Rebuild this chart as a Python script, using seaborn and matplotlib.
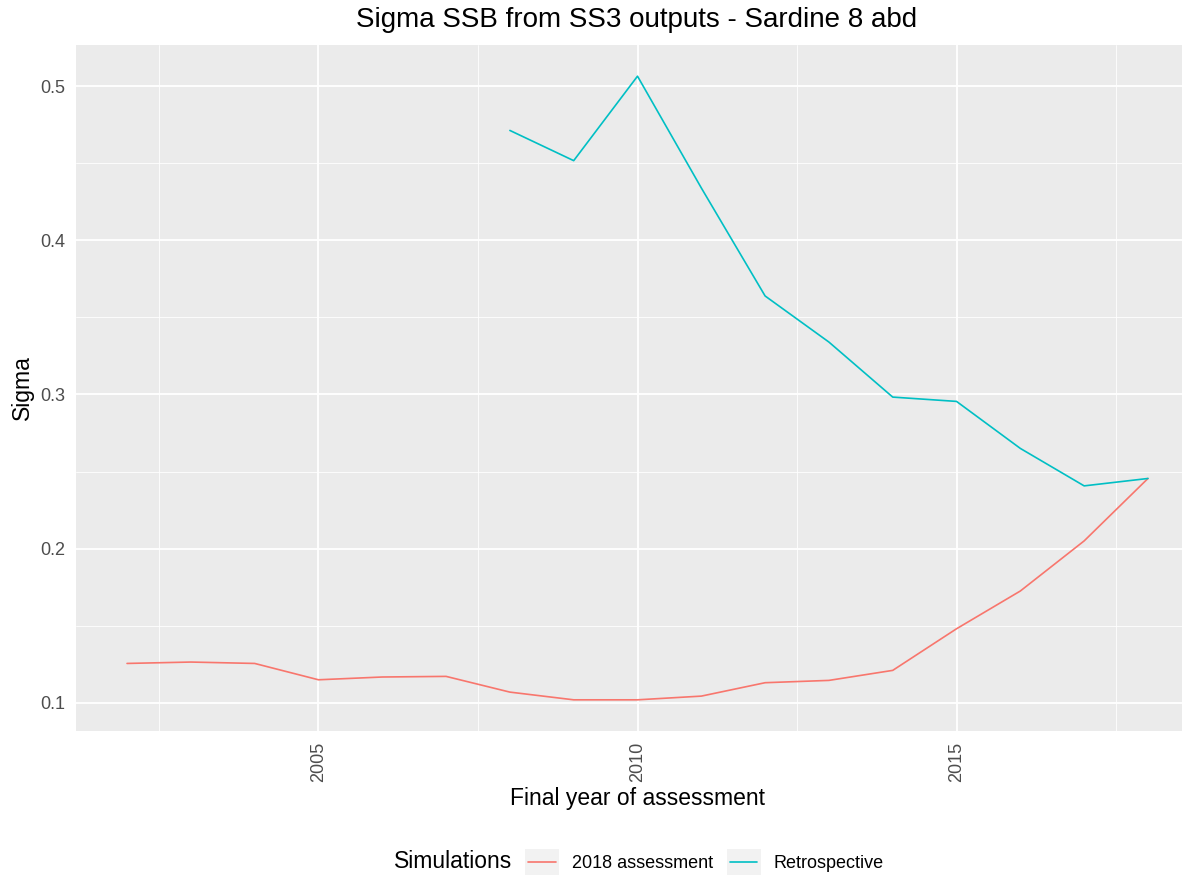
import pandas as pd
import numpy as np
import matplotlib
matplotlib.use("Agg")
import matplotlib.pyplot as plt
import matplotlib.ticker as mticker
from matplotlib.patches import Rectangle
from matplotlib.lines import Line2D
import seaborn as sns

# Dados
anos_2018 = list(range(2002, 2019))
sigma_2018 = [0.1255, 0.1264, 0.1255, 0.1149, 0.1167, 0.1171, 0.1069, 0.1019, 0.1019,
              0.1043, 0.1130, 0.1145, 0.1210, 0.1480, 0.1725, 0.2050, 0.2455]
anos_retro = list(range(2008, 2019))
sigma_retro = [0.4713, 0.4517, 0.5065, 0.4340, 0.3639, 0.3340, 0.2983, 0.2955,
               0.2650, 0.2407, 0.2455]
series = ["2018 assessment", "Retrospective"]
cores = {"2018 assessment": "#F8766D", "Retrospective": "#00BFC4"}

df = pd.concat([
    pd.DataFrame({"ano": anos_2018, "sigma": sigma_2018, "Simulations": series[0]}),
    pd.DataFrame({"ano": anos_retro, "sigma": sigma_retro, "Simulations": series[1]}),
])

sns.set_style("darkgrid")
plt.rcParams['font.family'] = ['Liberation Sans', 'DejaVu Sans']
plt.rcParams['text.color'] = 'black'


class ChaveGG:
    # caixa cinza + linha, como a chave de legenda do ggplot
    def legend_artist(self, legend, orig_handle, fontsize, handlebox):
        x0, y0 = -handlebox.xdescent, -handlebox.ydescent
        w, h = handlebox.width, handlebox.height
        rect = Rectangle((x0, y0), w, h, facecolor="#F2F2F2", edgecolor="none",
                         transform=handlebox.get_transform())
        linha = Line2D([x0 + 0.1 * w, x0 + 0.9 * w], [y0 + h / 2, y0 + h / 2],
                       color=orig_handle.get_color(), linewidth=1.2,
                       transform=handlebox.get_transform())
        handlebox.add_artist(rect)
        handlebox.add_artist(linha)
        return linha


fig = plt.figure(figsize=(11.82, 8.75), dpi=100, facecolor="white")
# painel vai um pouco além da borda direita, como no original
ax = fig.add_axes([76 / 1182, 144 / 875, 1123 / 1182, 686 / 875])
ax.set_facecolor("#EBEBEB")

sns.lineplot(data=df, x="ano", y="sigma", hue="Simulations", palette=cores,
             linewidth=1.2, ax=ax, legend=False)

# Limites com expansão de 5% (estilo ggplot)
xr = 2018 - 2002
ax.set_xlim(2002 - 0.05 * xr, 2018 + 0.05 * xr)
ymin, ymax = min(df.sigma), max(df.sigma)
yr = ymax - ymin
ax.set_ylim(ymin - 0.05 * yr, ymax + 0.05 * yr)

ax.xaxis.set_major_locator(mticker.FixedLocator([2005, 2010, 2015]))
ax.xaxis.set_minor_locator(mticker.FixedLocator([2002.5, 2007.5, 2012.5, 2017.5]))
ax.yaxis.set_major_locator(mticker.FixedLocator([0.1, 0.2, 0.3, 0.4, 0.5]))
ax.yaxis.set_minor_locator(mticker.FixedLocator([0.15, 0.25, 0.35, 0.45]))
ax.yaxis.set_major_formatter(mticker.FuncFormatter(lambda v, p: f"{v:.1f}"))

ax.grid(which="major", color="white", linewidth=1.3)
ax.grid(which="minor", color="white", linewidth=0.6)
ax.set_axisbelow(True)
for s in ax.spines.values():
    s.set_visible(False)

ax.tick_params(axis="both", which="major", length=5, width=1, color="#333333",
               labelsize=13, labelcolor="#4D4D4D", pad=3)
ax.tick_params(axis="both", which="minor", length=0)
ax.tick_params(axis="x", labelrotation=90)

ax.set_xlabel("Final year of assessment", fontsize=16.5, color="black", labelpad=3)
ax.set_ylabel("Sigma", fontsize=16.5, color="black", labelpad=4)
fig.text(637 / 1182, 1 - 20 / 875, "Sigma SSB from SS3 outputs - Sardine 8 abd",
         fontsize=20, ha="center", va="center")

# Legenda na parte de baixo, título à esquerda
linhas = [Line2D([], [], color=cores[s], linewidth=1.2) for s in series]
fig.legend(linhas, series, handler_map={Line2D: ChaveGG()},
           loc="center left", bbox_to_anchor=(525 / 1182, 1 - 862 / 875), ncol=2,
           frameon=False, fontsize=13, handlelength=1.9, handleheight=1.9,
           handletextpad=0.7, columnspacing=0.75, borderpad=0, borderaxespad=0)
fig.text(512 / 1182, 1 - 862 / 875, "Simulations", fontsize=16.5, ha="right", va="center")

fig.savefig("out.png", dpi=100, facecolor="white")
